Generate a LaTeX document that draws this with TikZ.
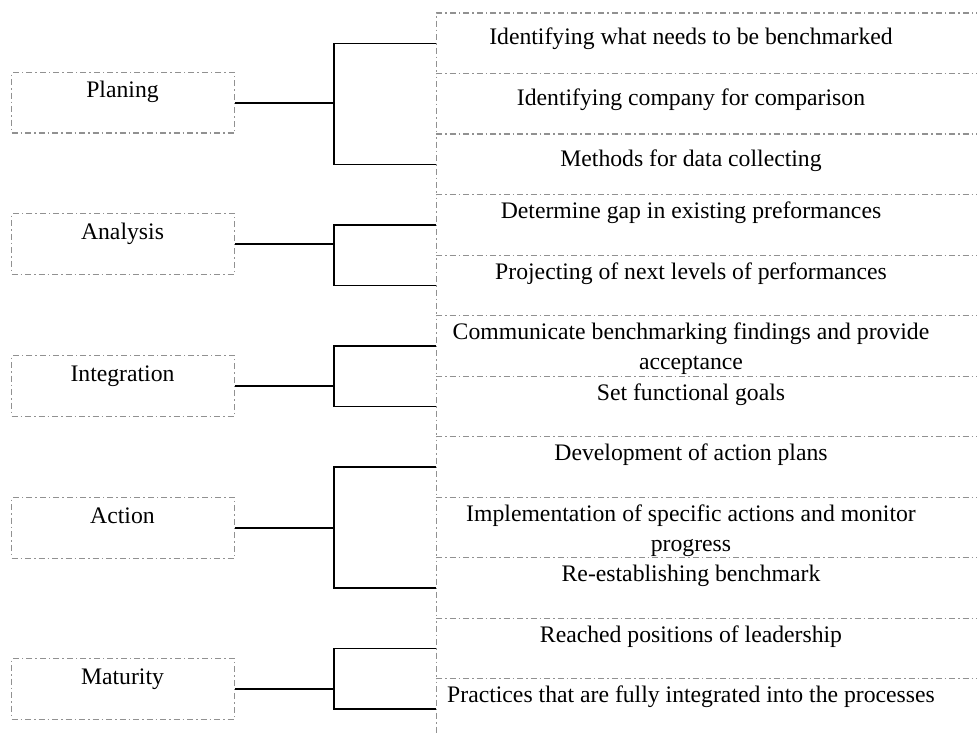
\documentclass[tikz,border=0pt]{standalone}
\usepackage{fontspec}
\setmainfont{Liberation Serif}
\definecolor{dashgray}{RGB}{145,145,145}
\tikzset{
  dd/.style={draw=dashgray, line width=1.3pt, dash pattern=on 6pt off 3pt on 1.5pt off 3pt},
  lbox/.style={dd, minimum width=223pt, minimum height=60.5pt, inner sep=0pt, anchor=north west},
  rbox/.style={dd, minimum width=560pt, minimum height=60.5pt, inner sep=0pt, anchor=north west},
  txt/.style={font=\fontsize{23.7}{30}\selectfont, inner sep=0pt, anchor=base, align=center},
  conn/.style={draw=black, line width=1.6pt}
}
\begin{document}
\begin{tikzpicture}[x=1pt,y=-1pt]
\useasboundingbox (0,0) rectangle (977,733);
\clip (0,0) rectangle (977,733);
% right boxes
\foreach \i in {1,...,12}{
  \node[rbox] (r\i) at (435.5,{12.5+60.5*(\i-1)}) {};
}
% left boxes
\node[lbox] (l1) at (11,72) {};
\node[lbox] (l2) at (11,213) {};
\node[lbox] (l3) at (11,355) {};
\node[lbox] (l4) at (11,497) {};
\node[lbox] (l5) at (11,658) {};
% left texts
\node[txt] (lt1) at (122.5,98) {Planing};
\node[txt] (lt2) at (122.5,239) {Analysis};
\node[txt] (lt3) at (122.5,381) {Integration};
\node[txt] (lt4) at (122.5,523) {Action};
\node[txt] (lt5) at (122.5,684) {Maturity};
% right texts
\node[txt] (rt1) at (691,45) {Identifying what needs to be benchmarked};
\node[txt] (rt2) at (691,106) {Identifying company for comparison};
\node[txt] (rt3) at (691,166.5) {Methods for data collecting};
\node[txt] (rt4) at (691,218.5) {Determine gap in existing preformances};
\node[txt] (rt5) at (691,279) {Projecting of next levels of performances};
\node[txt] (rt6) at (691,369.5) {Communicate benchmarking findings and provide\\acceptance};
\node[txt] (rt7) at (691,400) {Set functional goals};
\node[txt] (rt8) at (691,460.5) {Development of action plans};
\node[txt] (rt9) at (691,551) {Implementation of specific actions and monitor\\progress};
\node[txt] (rt10) at (691,581.5) {Re-establishing benchmark};
\node[txt] (rt11) at (691,642) {Reached positions of leadership};
\node[txt] (rt12) at (691,702.5) {Practices that are fully integrated into the processes};
% branch points
\coordinate (b1) at (334,0 |- l1.east);
\coordinate (b2) at (334,0 |- l2.east);
\coordinate (b3) at (334,0 |- l3.east);
\coordinate (b4) at (334,0 |- l4.east);
\coordinate (b5) at (334,0 |- l5.east);
% connectors
\draw[conn] (l1.east) -- (b1);
\draw[conn] (r1.west) -| (b1) |- (r3.west);
\draw[conn] (l2.east) -- (b2);
\draw[conn] (r4.west) -| (b2) |- (r5.west);
\draw[conn] (l3.east) -- (b3);
\draw[conn] (r6.west) -| (b3) |- (r7.west);
\draw[conn] (l4.east) -- (b4);
\draw[conn] (r8.west) -| (b4) |- (r10.west);
\draw[conn] (l5.east) -- (b5);
\draw[conn] (r11.west) -| (b5) |- (r12.west);
\end{tikzpicture}
\end{document}
